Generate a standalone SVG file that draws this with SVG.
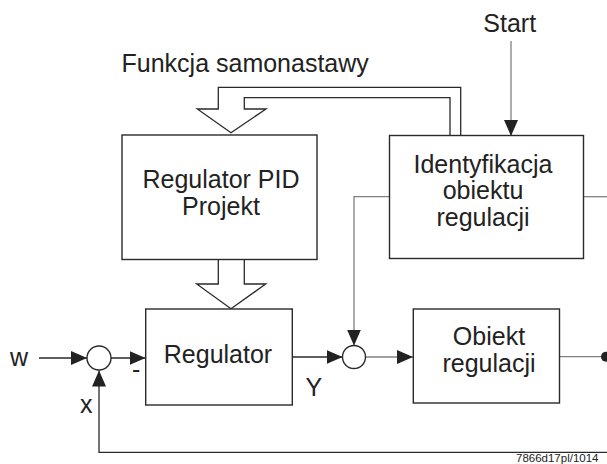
<svg xmlns="http://www.w3.org/2000/svg" width="607" height="464" viewBox="0 0 607 464">
<style>
.box{fill:#fff;stroke:#2a2a2a;stroke-width:1.4}
.ln{fill:none;stroke:#2a2a2a;stroke-width:1.3}
.gl{fill:none;stroke:#808080;stroke-width:1.3}
.hol{fill:#fff;stroke:#2a2a2a;stroke-width:1.3;stroke-linejoin:miter}
.t{font-family:"Liberation Sans",Arial,sans-serif;font-size:25px;fill:#222}
.c{text-anchor:middle}
.sm{font-family:"Liberation Sans",Arial,sans-serif;font-size:11.5px;fill:#222}
</style>
<defs>
<marker id="ah" markerUnits="userSpaceOnUse" markerWidth="18" markerHeight="16" refX="16" refY="7" orient="auto">
<path d="M0,0 L16,7 L0,14 Z" fill="#222"/>
</marker>
</defs>
<rect width="607" height="464" fill="#fff"/>

<g id="connectors">
<line class="gl" x1="511" y1="41" x2="511" y2="136" marker-end="url(#ah)"/>
<line class="ln" x1="39" y1="358" x2="87" y2="358" marker-end="url(#ah)"/>
<line class="ln" x1="111" y1="358" x2="145.5" y2="358" marker-end="url(#ah)"/>
<line class="ln" x1="292.5" y1="357" x2="342.5" y2="357" marker-end="url(#ah)"/>
<line class="gl" x1="365.5" y1="357" x2="413" y2="357" marker-end="url(#ah)"/>
<polyline class="gl" points="389.5,196.7 354,196.7 354,345.5" marker-end="url(#ah)"/>
<line class="gl" x1="583.5" y1="196.7" x2="607" y2="196.7"/>
<line class="gl" x1="559.5" y1="356.7" x2="607" y2="356.7"/>
<circle cx="606" cy="356.7" r="5" fill="#222"/>
<polyline class="ln" points="607,452.3 99,452.3 99,370.5" marker-end="url(#ah)"/>
<path class="hol" d="M460.7,136 L460.7,87.3 L218.3,87.3 L218.3,109 L197.3,109 L231,132.7 L266,109 L244.3,109 L244.3,97.7 L450,97.7 L450,136"/>
<path class="hol" d="M218.3,259.5 L218.3,284 L196.7,284 L231,308.7 L265.7,284 L244.3,284 L244.3,259.5"/>
</g>

<g id="sum1"><circle cx="99" cy="358" r="12" class="box" stroke-width="1.1"/></g>
<g id="sum2"><circle cx="354" cy="357" r="11.5" class="box" stroke-width="1.1"/></g>

<g id="pid">
<rect class="box" x="122" y="135" width="195" height="124.5"/>
<text class="t c" x="221" y="188.3">Regulator PID</text>
<text class="t c" x="221" y="215">Projekt</text>
</g>

<g id="ident">
<rect class="box" x="389.5" y="135.5" width="194" height="123"/>
<text class="t c" x="483" y="172.7">Identyfikacja</text>
<text class="t c" x="483" y="199.3">obiektu</text>
<text class="t c" x="483" y="226">regulacji</text>
</g>

<g id="regulator">
<rect class="box" x="145.7" y="309" width="146.6" height="96"/>
<text class="t c" x="218" y="363.3">Regulator</text>
</g>

<g id="obiekt">
<rect class="box" x="413.3" y="309" width="146.2" height="94"/>
<text class="t c" x="489" y="345">Obiekt</text>
<text class="t c" x="489" y="371.7">regulacji</text>
</g>

<g id="labels">
<text class="t" x="121.5" y="71.7">Funkcja samonastawy</text>
<text class="t c" x="509.7" y="32">Start</text>
<text class="t" x="10" y="366">w</text>
<text class="t" x="80" y="413">x</text>
<text class="t" x="132" y="378">-</text>
<text class="t" x="305.5" y="396">Y</text>
<text class="sm" x="516" y="462">7866d17pl/1014</text>
</g>
</svg>
